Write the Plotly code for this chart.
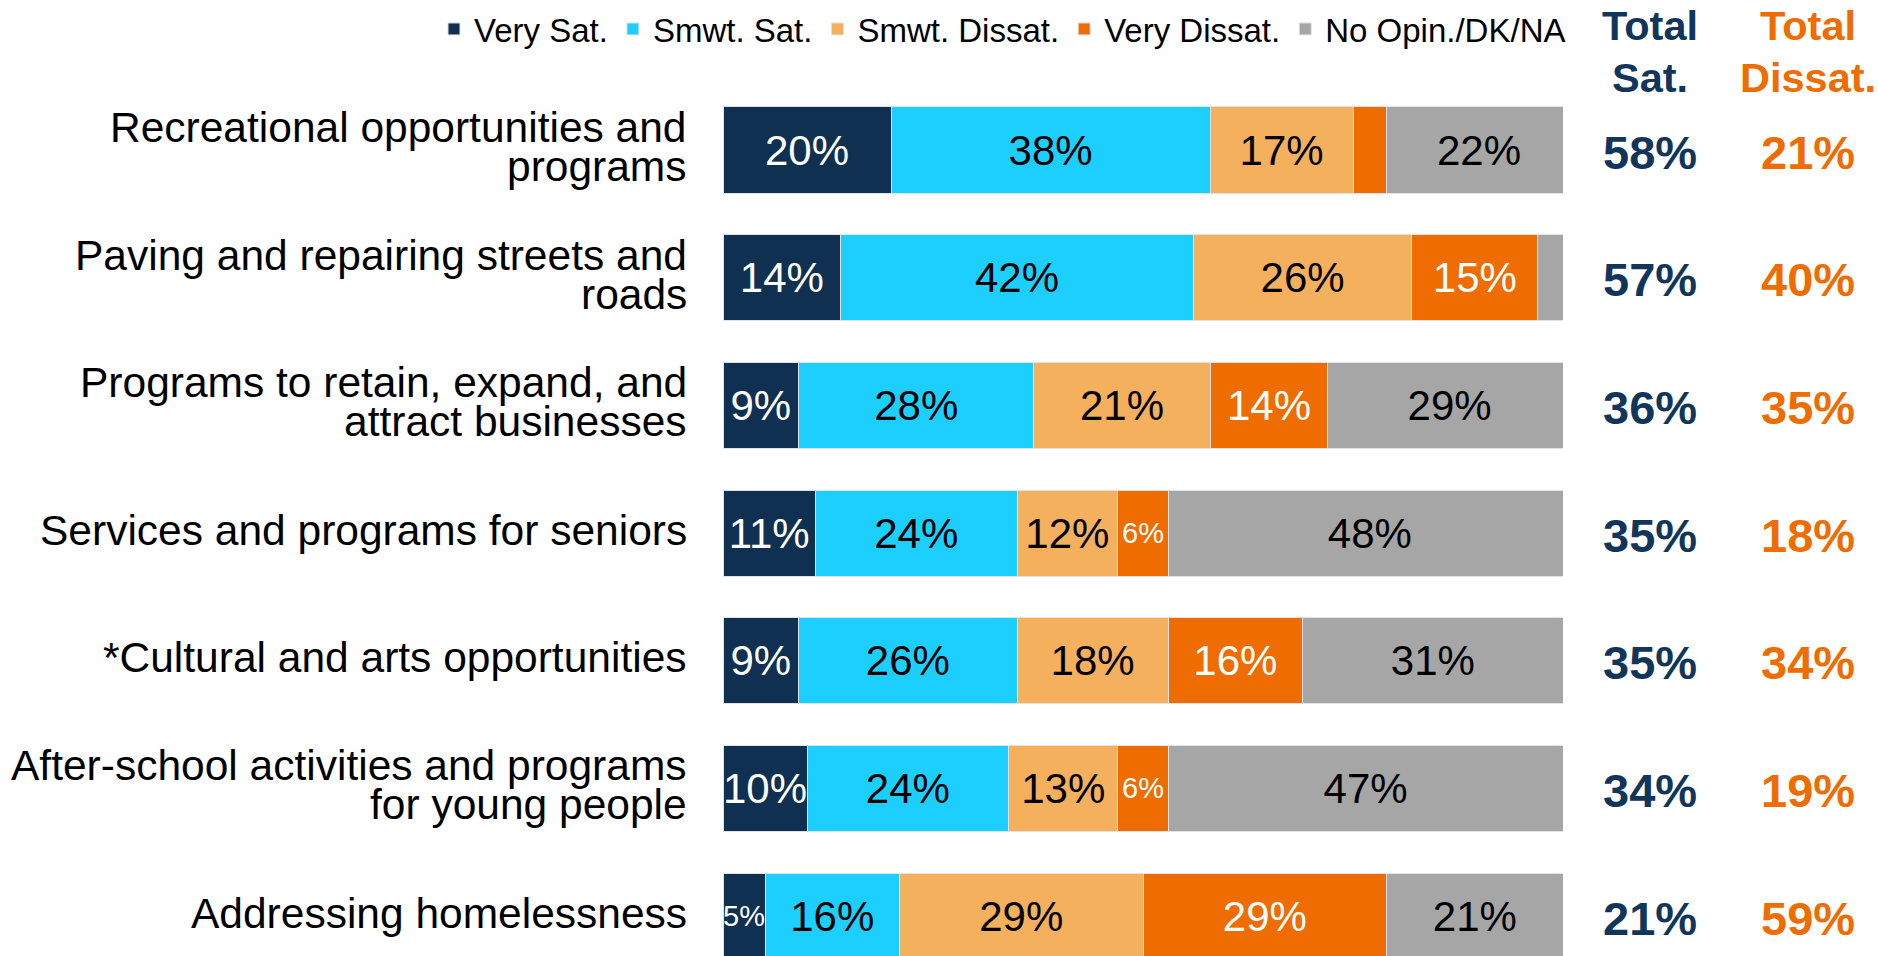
import plotly.graph_objects as go

categories = [
    "Recreational opportunities and<br>programs",
    "Paving and repairing streets and<br>roads",
    "Programs to retain, expand, and<br>attract businesses",
    "Services and programs for seniors",
    "*Cultural and arts opportunities",
    "After-school activities and programs<br>for young people",
    "Addressing homelessness",
]
series_names = ["Very Sat.", "Smwt. Sat.", "Smwt. Dissat.", "Very Dissat.", "No Opin./DK/NA"]
very_sat = [20, 14, 9, 11, 9, 10, 5]
smwt_sat = [38, 42, 28, 24, 26, 24, 16]
smwt_dissat = [17, 26, 21, 12, 18, 13, 29]
very_dissat = [4, 15, 14, 6, 16, 6, 29]
no_opinion = [22, 3, 29, 48, 31, 47, 21]
total_sat = [58, 57, 36, 35, 35, 34, 21]
total_dissat = [21, 40, 35, 18, 34, 19, 59]

colors = ["#0F3050", "#1DCFFF", "#F4B05C", "#EE6C00", "#A6A6A6"]
text_colors = ["white", "black", "black", "white", "black"]
NAVY = "#12355B"
ORANGE = "#EE6C00"
FONT = "Liberation Sans, Arial, sans-serif"

W, H = 1878, 956
L, R, T, B = 723, 315, 60, 0
PW, PH = W - L - R, H - T - B


def px_x(p):
    return (p - L) / PW


def px_y(p):
    return 1 - (p - T) / PH


fig = go.Figure()
for name, vals, col, tcol in zip(series_names,
                                 [very_sat, smwt_sat, smwt_dissat, very_dissat, no_opinion],
                                 colors, text_colors):
    fig.add_trace(go.Bar(
        name=name, y=categories, x=vals, orientation="h",
        marker=dict(color=col, line=dict(color="#dfe3e8", width=1)),
        text=[f"{v}%" if v >= 5 else "" for v in vals],
        textposition="inside", insidetextanchor="middle", textangle=0,
        constraintext="none",
        textfont=dict(color=tcol, family=FONT, size=[42 if v >= 9 else 29 for v in vals]),
        hoverinfo="skip",
    ))

annotations = []
# category labels, line by line
for cat in categories:
    lines = cat.split("<br>")
    n = len(lines)
    for i, line in enumerate(lines):
        off = (i - (n - 1) / 2) * 39 - 3
        annotations.append(dict(
            text=line, xref="paper", x=0, xanchor="right", xshift=-34,
            yref="y", y=cat, yanchor="middle", yshift=-off, showarrow=False,
            font=dict(family=FONT, size=42.5, color="black"), align="right"))

# totals
x_sat, x_dis = px_x(1650), px_x(1808)
for cat, ts, td in zip(categories, total_sat, total_dissat):
    annotations.append(dict(text=f"{ts}%", xref="paper", x=x_sat, xanchor="center", yref="y", y=cat,
                            yshift=-2, showarrow=False,
                            font=dict(family=FONT, size=47, color=NAVY, weight="bold")))
    annotations.append(dict(text=f"{td}%", xref="paper", x=x_dis, xanchor="center", yref="y", y=cat,
                            yshift=-2, showarrow=False,
                            font=dict(family=FONT, size=47, color=ORANGE, weight="bold")))

# headers
for xx, l1, l2, c in [(x_sat, "Total", "Sat.", NAVY), (x_dis, "Total", "Dissat.", ORANGE)]:
    annotations.append(dict(text=l1, xref="paper", x=xx, xanchor="center", yref="paper", y=px_y(26),
                            yanchor="middle", showarrow=False,
                            font=dict(family=FONT, size=41.5, color=c, weight="bold")))
    annotations.append(dict(text=l2, xref="paper", x=xx, xanchor="center", yref="paper", y=px_y(77),
                            yanchor="middle", showarrow=False,
                            font=dict(family=FONT, size=41.5, color=c, weight="bold")))

fig.update_layout(
    width=W, height=H,
    barmode="stack", bargap=0.326,
    margin=dict(l=L, r=R, t=T, b=B, autoexpand=False),
    plot_bgcolor="white", paper_bgcolor="white",
    xaxis=dict(range=[0, 100], visible=False, fixedrange=True),
    yaxis=dict(range=[6.313, -0.705], visible=False, fixedrange=True),
    legend=dict(orientation="h", x=px_x(434), xanchor="left", y=px_y(29), yanchor="middle",
                font=dict(family=FONT, size=33, color="black"), traceorder="normal",
                bgcolor="rgba(0,0,0,0)", itemwidth=30),
    annotations=annotations,
    font=dict(family=FONT),
)

fig.write_html("out.html", config={"displayModeBar": False},
               post_script="document.body.style.margin='0';document.body.style.overflow='hidden';")
